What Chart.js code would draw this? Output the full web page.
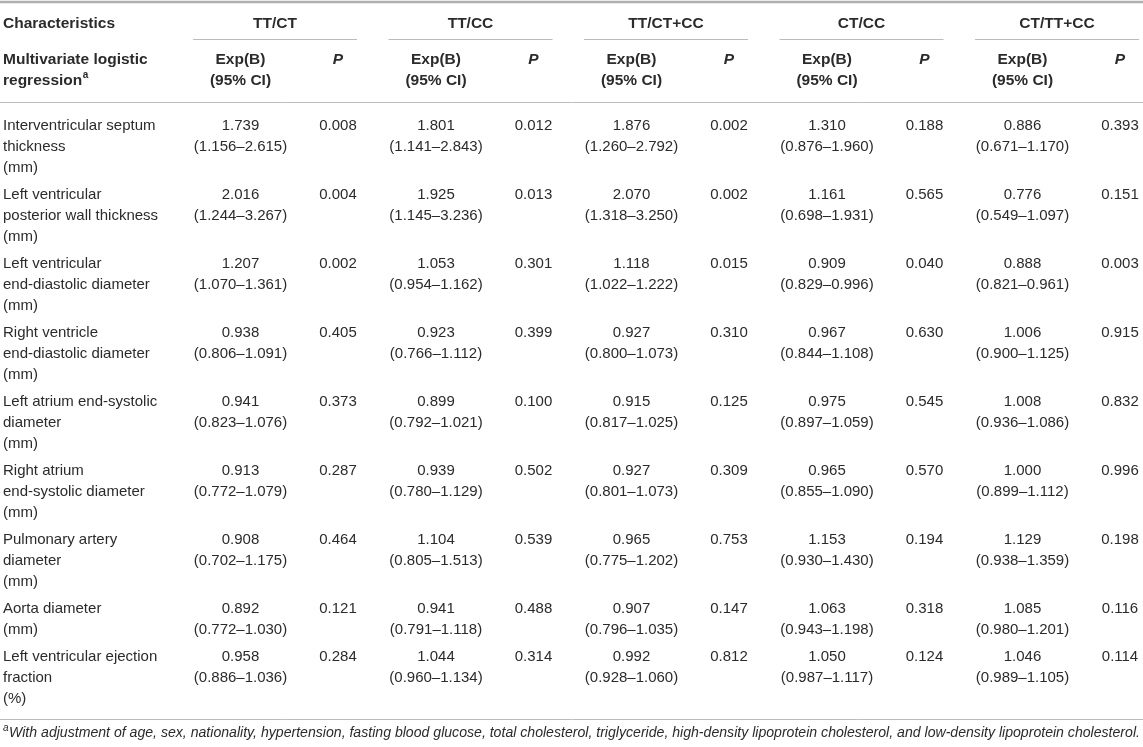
<!DOCTYPE html>
<html>
<head>
<meta charset="utf-8">
<script src="https://cdn.jsdelivr.net/npm/chart.js@4"></script>
<style>
  html,body{margin:0;padding:0;background:#fff;}
  #wrap{width:1143px;height:747px;}
</style>
</head>
<body>
<div id="wrap"><canvas id="c" width="1143" height="747"></canvas></div>
<script>
// ---------- DATA ----------
const headerLabel = "Characteristics";
const subHeaderLabel = ["Multivariate logistic", "regression"];
const comparisons = ["TT/CT", "TT/CC", "TT/CT+CC", "CT/CC", "CT/TT+CC"];
const rowLabels = [
  ["Interventricular septum", "thickness", "(mm)"],
  ["Left ventricular", "posterior wall thickness", "(mm)"],
  ["Left ventricular", "end-diastolic diameter", "(mm)"],
  ["Right ventricle", "end-diastolic diameter", "(mm)"],
  ["Left atrium end-systolic", "diameter", "(mm)"],
  ["Right atrium", "end-systolic diameter", "(mm)"],
  ["Pulmonary artery", "diameter", "(mm)"],
  ["Aorta diameter", "(mm)"],
  ["Left ventricular ejection", "fraction", "(%)"]
];
// TT/CT
const expB_TTCT = [1.739, 2.016, 1.207, 0.938, 0.941, 0.913, 0.908, 0.892, 0.958];
const ciLo_TTCT = [1.156, 1.244, 1.070, 0.806, 0.823, 0.772, 0.702, 0.772, 0.886];
const ciHi_TTCT = [2.615, 3.267, 1.361, 1.091, 1.076, 1.079, 1.175, 1.030, 1.036];
const p_TTCT    = [0.008, 0.004, 0.002, 0.405, 0.373, 0.287, 0.464, 0.121, 0.284];
// TT/CC
const expB_TTCC = [1.801, 1.925, 1.053, 0.923, 0.899, 0.939, 1.104, 0.941, 1.044];
const ciLo_TTCC = [1.141, 1.145, 0.954, 0.766, 0.792, 0.780, 0.805, 0.791, 0.960];
const ciHi_TTCC = [2.843, 3.236, 1.162, 1.112, 1.021, 1.129, 1.513, 1.118, 1.134];
const p_TTCC    = [0.012, 0.013, 0.301, 0.399, 0.100, 0.502, 0.539, 0.488, 0.314];
// TT/CT+CC
const expB_TTCTCC = [1.876, 2.070, 1.118, 0.927, 0.915, 0.927, 0.965, 0.907, 0.992];
const ciLo_TTCTCC = [1.260, 1.318, 1.022, 0.800, 0.817, 0.801, 0.775, 0.796, 0.928];
const ciHi_TTCTCC = [2.792, 3.250, 1.222, 1.073, 1.025, 1.073, 1.202, 1.035, 1.060];
const p_TTCTCC    = [0.002, 0.002, 0.015, 0.310, 0.125, 0.309, 0.753, 0.147, 0.812];
// CT/CC
const expB_CTCC = [1.310, 1.161, 0.909, 0.967, 0.975, 0.965, 1.153, 1.063, 1.050];
const ciLo_CTCC = [0.876, 0.698, 0.829, 0.844, 0.897, 0.855, 0.930, 0.943, 0.987];
const ciHi_CTCC = [1.960, 1.931, 0.996, 1.108, 1.059, 1.090, 1.430, 1.198, 1.117];
const p_CTCC    = [0.188, 0.565, 0.040, 0.630, 0.545, 0.570, 0.194, 0.318, 0.124];
// CT/TT+CC
const expB_CTTTCC = [0.886, 0.776, 0.888, 1.006, 1.008, 1.000, 1.129, 1.085, 1.046];
const ciLo_CTTTCC = [0.671, 0.549, 0.821, 0.900, 0.936, 0.899, 0.938, 0.980, 0.989];
const ciHi_CTTTCC = [1.170, 1.097, 0.961, 1.125, 1.086, 1.112, 1.359, 1.201, 1.105];
const p_CTTTCC    = [0.393, 0.151, 0.003, 0.915, 0.832, 0.996, 0.198, 0.116, 0.114];
const footnote = "With adjustment of age, sex, nationality, hypertension, fasting blood glucose, total cholesterol, triglyceride, high-density lipoprotein cholesterol, and low-density lipoprotein cholesterol.";

const groups = [
  {exp: expB_TTCT, lo: ciLo_TTCT, hi: ciHi_TTCT, p: p_TTCT},
  {exp: expB_TTCC, lo: ciLo_TTCC, hi: ciHi_TTCC, p: p_TTCC},
  {exp: expB_TTCTCC, lo: ciLo_TTCTCC, hi: ciHi_TTCTCC, p: p_TTCTCC},
  {exp: expB_CTCC, lo: ciLo_CTCC, hi: ciHi_CTCC, p: p_CTCC},
  {exp: expB_CTTTCC, lo: ciLo_CTTTCC, hi: ciHi_CTTTCC, p: p_CTTTCC}
];

// ---------- LAYOUT (style) ----------
const W = 1143, H = 747;
const FONT = '"Liberation Sans", Arial, Helvetica, sans-serif';
const TEXT = '#2b2b2b';
const RULE = '#bcbcbc';
const BODY = '15px ' + FONT;
const BOLD = 'bold 15.5px ' + FONT;
const labelX = 3;
const groupStart0 = 193, groupStep = 195.5, groupWidth = 164;
const expOffset = 47.5, pOffset = 145;
const topRuleY = 2, groupRuleY = 39.5, headRuleY = 102.5, bottomRuleY = 719.5;
const head1Y = 24, head2Y = 59.5, lineH = 21;
const firstRowY = 126, rowPad = 6;
const footY = 733;

const fmt = v => v.toFixed(3);
const textPts = [];
function addText(x, y, text, opts) {
  textPts.push(Object.assign({x, y, text, font: BODY, align: 'left'}, opts || {}));
}
// header
addText(labelX, head1Y, headerLabel, {font: BOLD});
addText(labelX, head2Y, subHeaderLabel[0], {font: BOLD});
addText(labelX, head2Y + lineH, subHeaderLabel[1], {font: BOLD, sup: 'a'});
comparisons.forEach((name, g) => {
  const gs = groupStart0 + g * groupStep;
  addText(gs + groupWidth / 2, head1Y, name, {font: BOLD, align: 'center'});
  addText(gs + expOffset, head2Y, 'Exp(B)', {font: BOLD, align: 'center'});
  addText(gs + expOffset, head2Y + lineH, '(95% CI)', {font: BOLD, align: 'center'});
  addText(gs + pOffset, head2Y, 'P', {font: 'italic ' + BOLD, align: 'center'});
});
// body
let y = firstRowY;
rowLabels.forEach((lines, r) => {
  lines.forEach((ln, k) => addText(labelX, y + k * lineH, ln));
  groups.forEach((gr, g) => {
    const gs = groupStart0 + g * groupStep;
    addText(gs + expOffset, y, fmt(gr.exp[r]), {align: 'center'});
    addText(gs + expOffset, y + lineH, '(' + fmt(gr.lo[r]) + '\u2013' + fmt(gr.hi[r]) + ')', {align: 'center'});
    addText(gs + pOffset, y, fmt(gr.p[r]), {align: 'center'});
  });
  y += lines.length * lineH + rowPad;
});
// footnote
addText(labelX, footY, footnote, {font: 'italic 14.1px ' + FONT, pre: 'a'});

// rules
function rule(x0, x1, yy, w, c) {
  return {type: 'line', data: [{x: x0, y: yy}, {x: x1, y: yy}], borderColor: c || RULE,
    borderWidth: w || 1, pointRadius: 0, fill: false, clip: false, tension: 0};
}
const ruleSets = [rule(0, W, topRuleY, 2.5, '#b0b0b0'), rule(0, W, headRuleY), rule(0, W, bottomRuleY)];
comparisons.forEach((_, g) => {
  const gs = groupStart0 + g * groupStep;
  ruleSets.push(rule(gs, gs + groupWidth, groupRuleY));
});

const textPlugin = {
  id: 'cellText',
  afterDatasetsDraw(chart) {
    const ctx = chart.ctx;
    const meta = chart.getDatasetMeta(0);
    const ds = chart.data.datasets[0].data;
    ctx.save();
    ctx.fillStyle = TEXT;
    ctx.textBaseline = 'middle';
    meta.data.forEach((el, i) => {
      const d = ds[i];
      ctx.font = d.font;
      ctx.textAlign = d.align;
      let x = el.x;
      if (d.pre) {
        ctx.save();
        ctx.font = 'italic 10px ' + FONT;
        ctx.textAlign = 'left';
        ctx.fillText(d.pre, x, el.y - 5);
        x += ctx.measureText(d.pre).width + 0.5;
        ctx.restore();
      }
      ctx.fillText(d.text, x, el.y);
      if (d.sup) {
        const w = ctx.measureText(d.text).width;
        ctx.font = 'bold 10px ' + FONT;
        ctx.textAlign = 'left';
        ctx.fillText(d.sup, x + w + 0.5, el.y - 5);
      }
    });
    ctx.restore();
  }
};

new Chart(document.getElementById('c'), {
  type: 'scatter',
  data: {
    datasets: [
      {data: textPts, pointRadius: 0, pointHoverRadius: 0, showLine: false}
    ].concat(ruleSets)
  },
  options: {
    responsive: false,
    animation: false,
    events: [],
    layout: {padding: 0},
    plugins: {legend: {display: false}, tooltip: {enabled: false}},
    scales: {
      x: {type: 'linear', min: 0, max: W, display: false},
      y: {type: 'linear', min: 0, max: H, reverse: true, display: false}
    }
  },
  plugins: [textPlugin]
});
</script>
</body>
</html>
